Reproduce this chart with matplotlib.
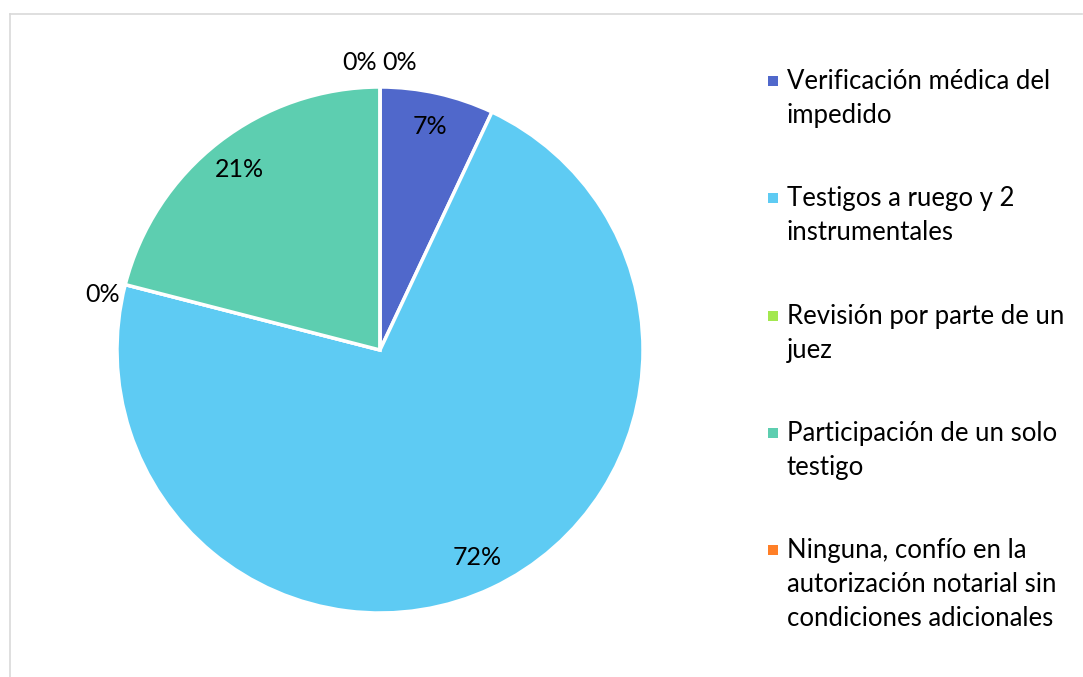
import matplotlib.pyplot as plt
from matplotlib.patches import Rectangle
from matplotlib.lines import Line2D
import numpy as np

# Data
categories = [
    "Verificación médica del\nimpedido",
    "Testigos a ruego y 2\ninstrumentales",
    "Revisión por parte de un\njuez",
    "Participación de un solo\ntestigo",
    "Ninguna, confío en la\nautorización notarial sin\ncondiciones adicionales",
]
values = [7, 72, 0, 21, 0]
colors = ["#5068CB", "#5ECBF3", "#A3E84F", "#5DCEB0", "#FF7F27"]

plt.rcParams['font.family'] = ['Lato', 'DejaVu Sans']

W, H = 1083, 677
fig = plt.figure(figsize=(W / 100, H / 100), dpi=100)

# pie axes: center (380, 350), radius 263 px
cx, cy, r = 380, 350, 263
ax = fig.add_axes([(cx - r) / W, (H - cy - r) / H, 2 * r / W, 2 * r / H])
wedges, _ = ax.pie(values, colors=colors, startangle=90, counterclock=False,
                   wedgeprops=dict(edgecolor="white", linewidth=2.5))
ax.set_xlim(-1, 1)
ax.set_ylim(-1, 1)
ax.set_aspect("equal")
ax.axis("off")

# percentage labels
fs = 18
total = sum(values)
start = 90.0
for i, v in enumerate(values):
    span = 360.0 * v / total
    mid = np.deg2rad(start - span / 2)
    label = f"{round(100 * v / total)}%"
    if v > 0:
        ax.text(0.87 * np.cos(mid), 0.87 * np.sin(mid), label,
                ha="center", va="center", fontsize=fs, clip_on=False)
    elif abs(np.cos(mid)) < 0.05:
        # zero slices at the top are stacked side by side
        y = 1.095
        ax.text(-0.01, y, label, ha="right", va="center", fontsize=fs, clip_on=False)
        ax.text(0.01, y, label, ha="left", va="center", fontsize=fs, clip_on=False)
    else:
        x, y = 1.02 * np.cos(mid), 1.02 * np.sin(mid)
        ax.text(x, y, label, ha="right" if np.cos(mid) < 0 else "left",
                va="top", fontsize=fs, clip_on=False)
    start -= span

# legend
for i, (cat, col) in enumerate(zip(categories, colors)):
    ytop = 81 + 117.3 * i
    fig.patches.append(Rectangle((768 / W, 1 - (ytop + 5) / H), 10 / W, 10 / H,
                                 transform=fig.transFigure, facecolor=col,
                                 edgecolor="none"))
    fig.text(787 / W, 1 - (ytop - 12) / H, cat, ha="left", va="top",
             fontsize=18.5, linespacing=1.45)

# chart border
fig.add_artist(Line2D([9.5 / W, 1082 / W], [1 - 14 / H, 1 - 14 / H],
                      color="#D9D9D9", linewidth=1.2))
fig.add_artist(Line2D([9.5 / W, 9.5 / W], [0, 1 - 14 / H],
                      color="#D9D9D9", linewidth=1.2))

fig.savefig("out.png", dpi=100)
